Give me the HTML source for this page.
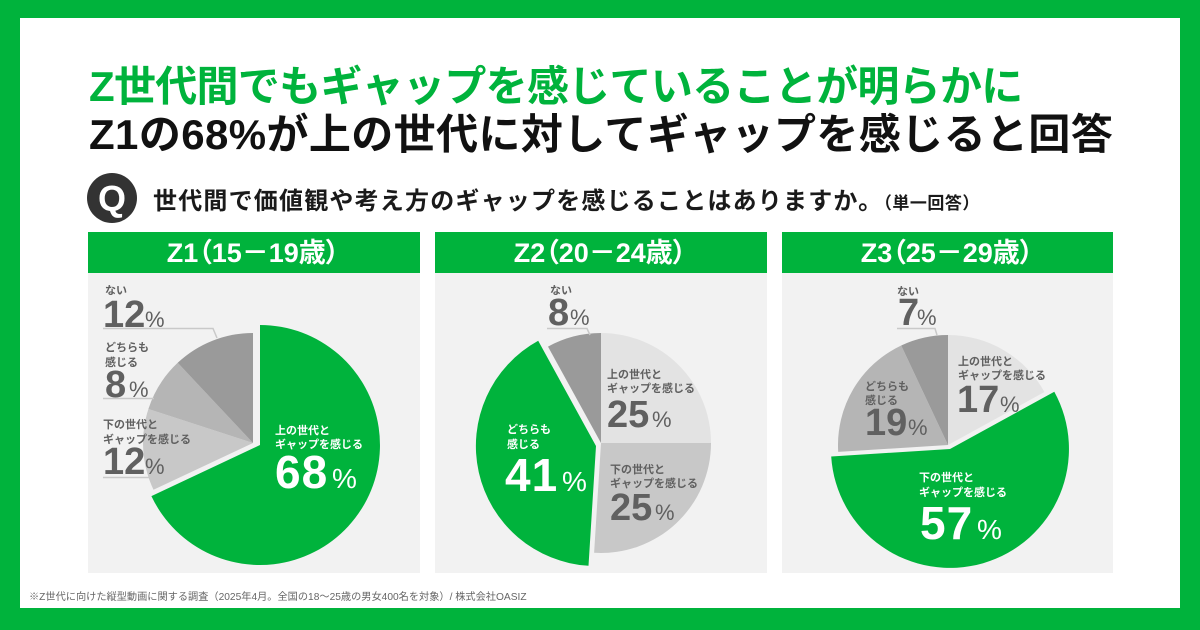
<!DOCTYPE html>
<html><head><meta charset="utf-8">
<style>
html,body{margin:0;padding:0;background:#fff;}
svg{display:block;}
text{font-family:"Liberation Sans","Noto Sans CJK JP",sans-serif;font-weight:700;}
.n{font-weight:400;}
.lbl{font-size:11px;fill:#606060;}
.wl{font-size:11px;fill:#fff;}
.num{font-size:38px;fill:#606060;}
.pct{font-size:22px;fill:#606060;font-weight:400;}
.bnum{font-size:46px;fill:#fff;letter-spacing:1px;}
.bpct{font-size:28px;fill:#fff;font-weight:400;}
.hd{font-size:27px;fill:#fff;font-feature-settings:"palt";}
</style></head>
<body>
<svg width="1200" height="630" viewBox="0 0 1200 630" xmlns="http://www.w3.org/2000/svg">
<rect x="0" y="0" width="1200" height="630" fill="#00b33c"/>
<rect x="20" y="18" width="1160" height="590" fill="#ffffff"/>

<!-- Titles -->
<text x="89" y="101" font-size="42" fill="#00b33c" letter-spacing="-0.7">Z世代間でもギャップを感じていることが明らかに</text>
<text x="89" y="149" font-size="42" fill="#111111" letter-spacing="0.4">Z1の68%が上の世代に対してギャップを感じると回答</text>

<!-- Q -->
<circle cx="112" cy="198" r="25" fill="#333333"/>
<text x="112" y="211" font-size="36" fill="#ffffff" text-anchor="middle">Q</text>
<text x="153" y="209" font-size="24" fill="#1a1a1a" letter-spacing="1.2">世代間で価値観や考え方のギャップを感じることはありますか。<tspan font-size="17" letter-spacing="0.5">（単一回答）</tspan></text>

<!-- Panels -->
<rect x="88" y="232" width="332" height="41" fill="#00b33c"/>
<rect x="88" y="273" width="332" height="300" fill="#f2f2f2"/>
<rect x="435" y="232" width="332" height="41" fill="#00b33c"/>
<rect x="435" y="273" width="332" height="300" fill="#f2f2f2"/>
<rect x="782" y="232" width="331" height="41" fill="#00b33c"/>
<rect x="782" y="273" width="331" height="300" fill="#f2f2f2"/>

<text class="hd" x="253" y="262" text-anchor="middle">Z1（15－19歳）</text>
<text class="hd" x="600" y="262" text-anchor="middle">Z2（20－24歳）</text>
<text class="hd" x="947" y="262" text-anchor="middle">Z3（25－29歳）</text>

<!-- Z1 pie -->
<path d="M253,443 L153.5,489.8 A110,110 0 0 1 148.4,409.0 Z" fill="#c8c8c8"/>
<path d="M253,443 L148.4,409.0 A110,110 0 0 1 177.7,362.8 Z" fill="#b5b5b5"/>
<path d="M253,443 L177.7,362.8 A110,110 0 0 1 253,333 Z" fill="#9a9a9a"/>
<path d="M260,445 L260,325 A120,120 0 1 1 151.4,496.1 Z" fill="#00b33c"/>

<polyline points="103,328.5 213,328.5 217,338" fill="none" stroke="#c9c9c9" stroke-width="1.5"/>
<line x1="103" y1="398.5" x2="154" y2="398.5" stroke="#c9c9c9" stroke-width="1.5"/>
<line x1="103" y1="477.5" x2="149" y2="477.5" stroke="#c9c9c9" stroke-width="1.5"/>

<text class="lbl" x="105" y="294">ない</text>
<text class="num" x="103" y="327">12</text><text class="pct" x="145" y="327">%</text>
<text class="lbl" x="105" y="351">どちらも</text>
<text class="lbl" x="105" y="366">感じる</text>
<text class="num" x="105" y="397">8</text><text class="pct" x="129" y="397">%</text>
<text class="lbl" x="103" y="428">下の世代と</text>
<text class="lbl" x="103" y="443">ギャップを感じる</text>
<text class="num" x="103" y="474">12</text><text class="pct" x="145" y="474">%</text>

<text class="wl" x="275" y="434">上の世代と</text>
<text class="wl" x="275" y="448">ギャップを感じる</text>
<text class="bnum" x="275" y="488">68</text><text class="bpct" x="332" y="488">%</text>

<!-- Z2 pie -->
<path d="M601,443 L601,333 A110,110 0 0 1 711,443 Z" fill="#e3e3e3"/>
<path d="M601,443 L711,443 A110,110 0 0 1 594.1,552.8 Z" fill="#c8c8c8"/>
<path d="M601,443 L548,346.6 A110,110 0 0 1 601,333 Z" fill="#9a9a9a"/>
<path d="M596,446 L588.5,565.8 A120,120 0 0 1 538.2,340.8 Z" fill="#00b33c"/>

<polyline points="547,328.5 587,328.5 590,335" fill="none" stroke="#c9c9c9" stroke-width="1.5"/>
<text class="lbl" x="550" y="294">ない</text>
<text class="num" x="548" y="325">8</text><text class="pct" x="570" y="325">%</text>

<text class="lbl" x="607" y="378">上の世代と</text>
<text class="lbl" x="607" y="392">ギャップを感じる</text>
<text class="num" x="607" y="427">25</text><text class="pct" x="652" y="427">%</text>

<text class="lbl" x="610" y="473">下の世代と</text>
<text class="lbl" x="610" y="487">ギャップを感じる</text>
<text class="num" x="610" y="520">25</text><text class="pct" x="655" y="520">%</text>

<text class="wl" x="507" y="433">どちらも</text>
<text class="wl" x="507" y="448">感じる</text>
<text class="bnum" x="505" y="491">41</text><text class="bpct" x="562" y="491">%</text>

<!-- Z3 pie -->
<path d="M948,445 L948,335 A110,110 0 0 1 1044.4,392 Z" fill="#e3e3e3"/>
<path d="M948,445 L838.2,451.9 A110,110 0 0 1 901.2,345.5 Z" fill="#b5b5b5"/>
<path d="M948,445 L901.2,345.5 A110,110 0 0 1 948,335 Z" fill="#9a9a9a"/>
<path d="M950,449 L1054.3,391.7 A119,119 0 1 1 831.2,456.5 Z" fill="#00b33c"/>

<polyline points="897,328.5 935,328.5 937,335" fill="none" stroke="#c9c9c9" stroke-width="1.5"/>
<text class="lbl" x="897" y="295">ない</text>
<text class="num" x="898" y="325">7</text><text class="pct" x="917" y="325">%</text>

<text class="lbl" x="958" y="365">上の世代と</text>
<text class="lbl" x="958" y="379">ギャップを感じる</text>
<text class="num" x="957" y="412">17</text><text class="pct" x="1000" y="412">%</text>

<text class="lbl" x="865" y="390">どちらも</text>
<text class="lbl" x="865" y="404">感じる</text>
<text class="num" x="865" y="435">19</text><text class="pct" x="908" y="435">%</text>

<text class="wl" x="919" y="481">下の世代と</text>
<text class="wl" x="919" y="496">ギャップを感じる</text>
<text class="bnum" x="920" y="539">57</text><text class="bpct" x="977" y="539">%</text>

<!-- Footer -->
<text x="29" y="600" font-size="10.2" fill="#666666" class="n" letter-spacing="0">※Z世代に向けた縦型動画に関する調査（2025年4月。全国の18～25歳の男女400名を対象）/ 株式会社OASIZ</text>
</svg>
</body></html>
